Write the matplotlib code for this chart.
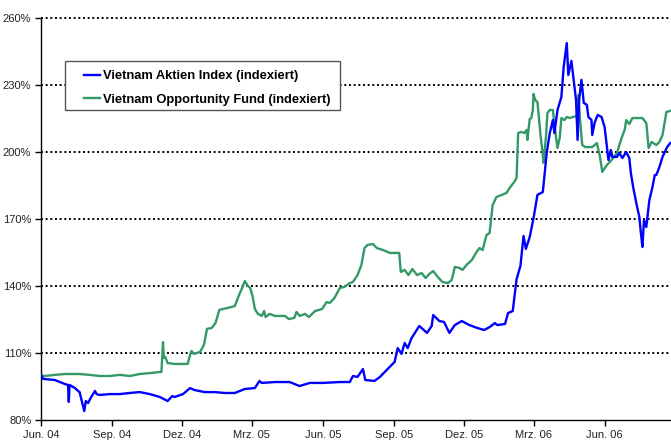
import matplotlib
matplotlib.use("Agg")
import matplotlib.pyplot as plt
from matplotlib.patches import Rectangle
import pandas as pd

plt.rcParams['font.family'] = ['Liberation Sans', 'DejaVu Sans']

# ---- data ----
index_dates = [
    "2004-06-01", "2004-06-04", "2004-06-19", "2004-07-02", "2004-07-06", "2004-07-07", "2004-07-08",
    "2004-07-15", "2004-07-19", "2004-07-21", "2004-07-27", "2004-07-29", "2004-08-01", "2004-08-05",
    "2004-08-10", "2004-08-12", "2004-08-16", "2004-08-29", "2004-09-11", "2004-09-24", "2004-10-07",
    "2004-10-20", "2004-11-02", "2004-11-12", "2004-11-18", "2004-11-21", "2004-12-02", "2004-12-11",
    "2004-12-17", "2004-12-30", "2005-01-12", "2005-01-25", "2005-02-07", "2005-02-20", "2005-03-05",
    "2005-03-11", "2005-03-14", "2005-03-31", "2005-04-19", "2005-05-02", "2005-05-15", "2005-06-01",
    "2005-06-23", "2005-07-06", "2005-07-10", "2005-07-16", "2005-07-23", "2005-07-26", "2005-08-07",
    "2005-08-14", "2005-08-24", "2005-09-02", "2005-09-06", "2005-09-11", "2005-09-15", "2005-09-19",
    "2005-09-24", "2005-10-04", "2005-10-11", "2005-10-14", "2005-10-20", "2005-10-22", "2005-10-30",
    "2005-11-05", "2005-11-12", "2005-11-19", "2005-11-28", "2005-12-08", "2005-12-18", "2005-12-27",
    "2006-01-03", "2006-01-10", "2006-01-13", "2006-01-23", "2006-01-27", "2006-02-02", "2006-02-07",
    "2006-02-12", "2006-02-16", "2006-02-19", "2006-02-24", "2006-03-01", "2006-03-06", "2006-03-13",
    "2006-03-18", "2006-03-22", "2006-03-26", "2006-03-28", "2006-04-01", "2006-04-06", "2006-04-09",
    "2006-04-13", "2006-04-15", "2006-04-19", "2006-04-23", "2006-04-25", "2006-04-27", "2006-04-29",
    "2006-05-02", "2006-05-05", "2006-05-09", "2006-05-11", "2006-05-15", "2006-05-16", "2006-05-19",
    "2006-05-23", "2006-05-28", "2006-06-01", "2006-06-04", "2006-06-06", "2006-06-09", "2006-06-11",
    "2006-06-17", "2006-06-20", "2006-06-24", "2006-06-29", "2006-07-03", "2006-07-05", "2006-07-08",
    "2006-07-12", "2006-07-16", "2006-07-18", "2006-07-20", "2006-07-22", "2006-07-25", "2006-07-29",
    "2006-08-02", "2006-08-05", "2006-08-07", "2006-08-11", "2006-08-15", "2006-08-21", "2006-08-25",
]
index_values = [
    100.0, 98.4, 97.9, 96.1, 95.7, 88.1, 95.7,
    94.3, 93.0, 92.5, 84.0, 88.5, 87.6, 90.3,
    93.0, 91.6, 91.2, 91.6, 91.6, 92.1, 92.5,
    91.6, 90.3, 88.5, 90.7, 90.3, 91.6, 94.3,
    93.4, 92.5, 92.5, 92.1, 92.1, 93.9, 94.3,
    97.5, 96.6, 97.0, 97.0, 95.2, 96.6, 96.6,
    97.0, 97.0, 99.7, 99.3, 102.8, 97.9, 97.5,
    99.3, 102.8, 106.0, 112.2, 109.6, 114.5, 112.2,
    116.7, 122.1, 119.9, 119.0, 122.1, 127.0, 124.3,
    123.9, 119.0, 122.5, 124.3, 122.5, 121.2, 120.3,
    121.6, 123.4, 122.5, 123.0, 127.9, 128.8, 143.1,
    149.0, 162.4, 156.6, 161.9, 170.5, 180.8, 182.1,
    199.6, 208.5, 214.3, 208.5, 218.8, 224.6, 238.1,
    248.8, 234.5, 240.8, 229.1, 223.3, 205.4, 223.3,
    232.3, 222.0, 221.1, 215.7, 214.3, 207.6, 213.0,
    216.6, 215.7, 211.2, 202.2, 196.4, 200.9, 197.8,
    197.8, 199.6, 197.3, 200.0, 197.3, 190.6, 184.3,
    177.2, 170.9, 163.7, 157.5, 169.6, 166.4, 178.5,
    184.3, 189.7, 189.7, 193.3, 197.8, 202.2, 204.0,
]

fund_dates = [
    "2004-06-01", "2004-06-06", "2004-06-19", "2004-07-02", "2004-07-21", "2004-08-03", "2004-08-16",
    "2004-08-29", "2004-09-11", "2004-09-24", "2004-10-07", "2004-10-20", "2004-11-02", "2004-11-04",
    "2004-11-06", "2004-11-07", "2004-11-09", "2004-11-12", "2004-11-21", "2004-12-08", "2004-12-11",
    "2004-12-13", "2004-12-16", "2004-12-24", "2004-12-29", "2005-01-02", "2005-01-08", "2005-01-13",
    "2005-01-18", "2005-01-29", "2005-02-07", "2005-02-11", "2005-02-13", "2005-02-16", "2005-02-20",
    "2005-02-24", "2005-02-27", "2005-03-02", "2005-03-05", "2005-03-09", "2005-03-14", "2005-03-17",
    "2005-03-19", "2005-03-24", "2005-03-31", "2005-04-13", "2005-04-18", "2005-04-25", "2005-04-28",
    "2005-05-02", "2005-05-09", "2005-05-14", "2005-05-22", "2005-05-31", "2005-06-06", "2005-06-10",
    "2005-06-16", "2005-06-23", "2005-06-29", "2005-07-06", "2005-07-10", "2005-07-16", "2005-07-21",
    "2005-07-25", "2005-07-29", "2005-08-05", "2005-08-10", "2005-08-18", "2005-08-27", "2005-09-05",
    "2005-09-08", "2005-09-10", "2005-09-15", "2005-09-20", "2005-09-25", "2005-10-01", "2005-10-07",
    "2005-10-12", "2005-10-17", "2005-10-22", "2005-10-28", "2005-11-03", "2005-11-10", "2005-11-15",
    "2005-11-19", "2005-11-25", "2005-11-29", "2005-12-04", "2005-12-11", "2005-12-17", "2005-12-21",
    "2005-12-25", "2005-12-30", "2006-01-03", "2006-01-07", "2006-01-12", "2006-01-19", "2006-01-25",
    "2006-01-29", "2006-02-04", "2006-02-07", "2006-02-09", "2006-02-13", "2006-02-17", "2006-02-20",
    "2006-02-21", "2006-02-24", "2006-02-26", "2006-02-28", "2006-03-01", "2006-03-03", "2006-03-06",
    "2006-03-10", "2006-03-13", "2006-03-14", "2006-03-17", "2006-03-19", "2006-03-22", "2006-03-26",
    "2006-03-30", "2006-04-01", "2006-04-04", "2006-04-06", "2006-04-10", "2006-04-13", "2006-04-17",
    "2006-04-21", "2006-04-26", "2006-04-28", "2006-05-01", "2006-05-03", "2006-05-07", "2006-05-16",
    "2006-05-22", "2006-05-26", "2006-05-29", "2006-06-04", "2006-06-10", "2006-06-17", "2006-06-23",
    "2006-06-27", "2006-06-29", "2006-07-03", "2006-07-07", "2006-07-20", "2006-07-25", "2006-07-28",
    "2006-08-01", "2006-08-07", "2006-08-11", "2006-08-15", "2006-08-20", "2006-08-25",
]
fund_values = [
    100.0, 99.7, 100.2, 100.6, 100.6, 100.2, 99.7,
    99.7, 100.2, 99.7, 100.6, 101.0, 101.5, 101.5,
    114.9, 107.8, 108.2, 105.5, 105.1, 105.1, 109.1,
    110.9, 109.6, 110.5, 113.6, 120.8, 121.2, 123.4,
    129.3, 130.2, 131.0, 134.6, 136.4, 138.7, 142.2,
    140.0, 139.1, 135.5, 129.7, 127.5, 126.6, 128.8,
    126.1, 127.5, 126.6, 126.6, 125.2, 125.7, 128.4,
    126.6, 127.5, 126.1, 128.8, 129.7, 132.8, 132.4,
    134.6, 139.1, 139.6, 141.3, 141.8, 144.9, 149.4,
    157.0, 158.4, 158.8, 157.0, 156.1, 154.8, 154.8,
    154.8, 146.3, 147.2, 144.9, 147.6, 144.9, 145.8,
    143.6, 145.4, 146.7, 144.0, 141.8, 141.3, 142.7,
    148.5, 148.1, 147.2, 149.4, 151.6, 155.2, 157.0,
    156.1, 162.8, 163.7, 176.3, 179.9, 180.8, 181.7,
    183.9, 186.6, 188.4, 208.5, 209.0, 208.5, 209.9,
    205.4, 214.8, 215.2, 218.8, 226.0, 223.3, 222.4,
    207.6, 198.7, 195.1, 206.7, 217.5, 218.8, 218.8,
    206.7, 201.8, 206.7, 215.2, 214.3, 215.7, 215.2,
    215.7, 216.1, 225.5, 211.2, 203.1, 202.2, 202.2,
    204.0, 197.8, 191.1, 194.2, 196.4, 199.6, 206.3,
    209.9, 214.3, 212.5, 215.2, 215.2, 213.0, 201.8,
    204.5, 203.1, 204.5, 207.6, 217.9, 218.4,
]

series_labels = ["Vietnam Aktien Index (indexiert)", "Vietnam Opportunity Fund (indexiert)"]
tick_dates = ["2004-06-01", "2004-09-01", "2004-12-01", "2005-03-01", "2005-06-01",
              "2005-09-01", "2005-12-01", "2006-03-01", "2006-06-01"]
tick_labels = ["Jun. 04", "Sep. 04", "Dez. 04", "Mrz. 05", "Jun. 05",
               "Sep. 05", "Dez. 05", "Mrz. 06", "Jun. 06"]
y_ticks = [80, 110, 140, 170, 200, 230, 260]

# ---- plot ----
fig = plt.figure(figsize=(6.71, 4.41), dpi=100)
ax = fig.add_axes([41 / 671, 1 - 420 / 441, 630 / 671, 402 / 441])

for yv in y_ticks[1:]:
    ax.axhline(yv, color='black', lw=1.4, linestyle=(0, (1.0, 1.4)), zorder=1, clip_on=False)

ax.plot(pd.to_datetime(index_dates), index_values, color='#0000FF', lw=1.7, zorder=3,
        label=series_labels[0])
ax.plot(pd.to_datetime(fund_dates), fund_values, color='#339966', lw=1.7, zorder=2,
        label=series_labels[1])

ax.set_xlim(pd.Timestamp("2004-06-01"), pd.Timestamp("2006-08-26"))
ax.set_ylim(80, 260)
ax.set_yticks(y_ticks)
ax.set_yticklabels([f"{v}%" for v in y_ticks])
ax.set_xticks(pd.to_datetime(tick_dates))
ax.set_xticklabels(tick_labels)

for s in ['top', 'right']:
    ax.spines[s].set_visible(False)
for s in ['left', 'bottom']:
    ax.spines[s].set_color('black')
    ax.spines[s].set_linewidth(1.0)

ax.tick_params(axis='both', direction='out', length=4, width=1, color='black',
               labelsize=8, labelcolor='#222222', pad=3)

# legend frame drawn separately
ax.add_patch(Rectangle(((65 - 41) / 630, (420 - 110) / 402), 275 / 630, 49 / 402,
                       transform=ax.transAxes, facecolor='white', edgecolor='#555555',
                       lw=1.0, zorder=4, clip_on=False))
leg = ax.legend(loc='upper left', bbox_to_anchor=((84 - 41) / 630, (420 - 70) / 402),
                borderaxespad=0, borderpad=0, frameon=False,
                handlelength=1.2, handletextpad=0.25, labelspacing=0.9,
                prop={'weight': 'bold', 'size': 9.3})
leg.set_zorder(5)

fig.savefig("out.png", dpi=100)
